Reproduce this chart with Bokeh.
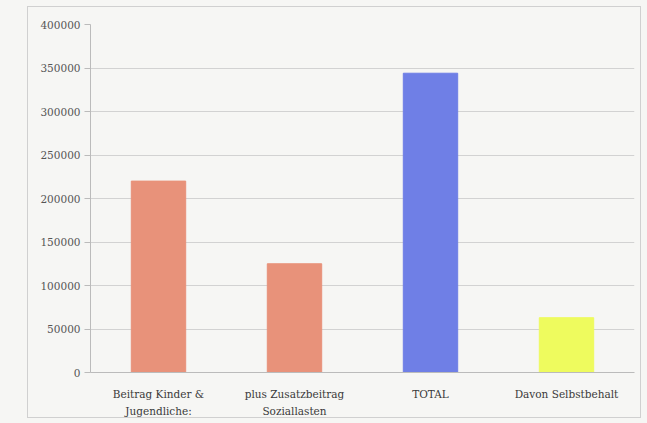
from bokeh.plotting import figure
from bokeh.layouts import column
from bokeh.models import ColumnDataSource, NumeralTickFormatter, FixedTicker
from bokeh.embed import file_html
from bokeh.resources import INLINE

categories = ["Beitrag Kinder &\nJugendliche:", "plus Zusatzbeitrag\nSoziallasten", "TOTAL", "Davon Selbstbehalt"]
values = [220000, 125000, 344000, 63000]
colors = ["#E8927A", "#E8927A", "#6F7FE6", "#EEFB5E"]
y_ticks = [0, 50000, 100000, 150000, 200000, 250000, 300000, 350000, 400000]

src = ColumnDataSource(dict(cat=categories, val=values, col=colors))

BG = "#F6F6F4"
p = figure(x_range=categories, y_range=(0, 400000), width=614, height=412,
           output_backend="svg", toolbar_location=None,
           min_border_left=62, min_border_right=8, min_border_top=17, min_border_bottom=45,
           margin=(6, 0, 0, 27), styles={"border": "1px solid #D0D0D0"})
p.background_fill_color = BG
p.border_fill_color = BG
p.outline_line_color = None

p.vbar(x="cat", top="val", width=0.4, color="col", source=src)

p.yaxis.ticker = FixedTicker(ticks=y_ticks)
p.yaxis.formatter = NumeralTickFormatter(format="0")
p.yaxis.major_label_text_font = "DejaVu Serif"
p.yaxis.major_label_text_font_size = "10.5px"
p.yaxis.major_label_text_color = "#555555"
p.yaxis.axis_line_color = "#BBBBBB"
p.yaxis.major_tick_line_color = "#BBBBBB"
p.yaxis.major_tick_out = 6
p.yaxis.major_tick_in = 0
p.yaxis.minor_tick_line_color = None
p.yaxis.major_label_standoff = 4

p.xaxis.major_label_text_font = "DejaVu Serif"
p.xaxis.major_label_text_font_size = "10.5px"
p.xaxis.major_label_text_line_height = 1.45
p.xaxis.major_label_text_color = "#3A3A3A"
p.xaxis.axis_line_color = "#BBBBBB"
p.xaxis.major_tick_line_color = None
p.xaxis.major_label_standoff = 9

p.xgrid.grid_line_color = None
p.ygrid.grid_line_color = "#D2D2D2"

layout = column(p, width=647, height=423, styles={"background-color": BG})

open("out.html", "w").write(file_html(layout, INLINE))
